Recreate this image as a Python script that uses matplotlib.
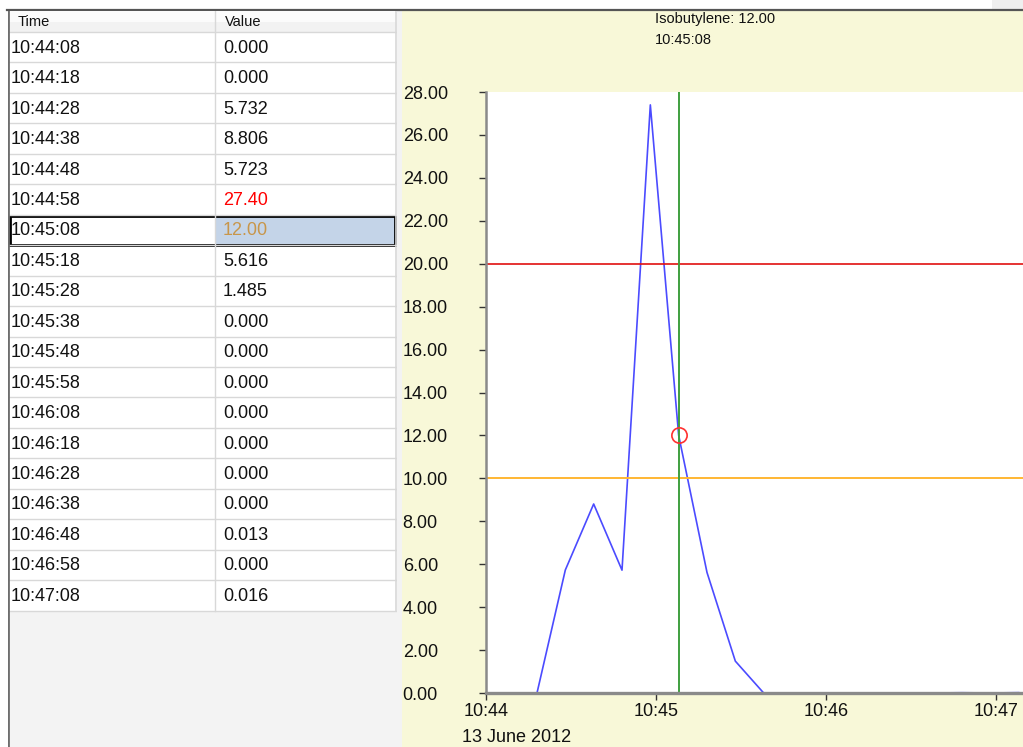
# -*- coding: utf-8 -*-
from datetime import datetime, timedelta

import matplotlib
matplotlib.use("Agg")
import matplotlib.pyplot as plt
import matplotlib.dates as mdates
from matplotlib.patches import Rectangle
from matplotlib.ticker import FormatStrFormatter, MultipleLocator

plt.rcParams['font.family'] = ['Liberation Sans', 'DejaVu Sans']

times = ["10:44:08", "10:44:18", "10:44:28", "10:44:38", "10:44:48",
         "10:44:58", "10:45:08", "10:45:18", "10:45:28", "10:45:38",
         "10:45:48", "10:45:58", "10:46:08", "10:46:18", "10:46:28",
         "10:46:38", "10:46:48", "10:46:58", "10:47:08"]
values = [0.000, 0.000, 5.732, 8.806, 5.723, 27.40, 12.00, 5.616, 1.485,
          0.000, 0.000, 0.000, 0.000, 0.000, 0.000, 0.000, 0.013, 0.000,
          0.016]
value_labels = ["0.000", "0.000", "5.732", "8.806", "5.723", "27.40", "12.00",
                "5.616", "1.485", "0.000", "0.000", "0.000", "0.000", "0.000",
                "0.000", "0.000", "0.013", "0.000", "0.016"]
day = "2012-06-13"
date_label = "13 June 2012"
gas = "Isobutylene"
selected = 6
alarm_high = 20.0
alarm_low = 10.0

W, H = 1023, 747
fig = plt.figure(figsize=(W / 100, H / 100), dpi=100, facecolor="white")


def box(x0, y0, x1, y1):
    # pixel box (top-left origin) -> figure fraction rect
    return [x0 / W, 1 - y1 / H, (x1 - x0) / W, (y1 - y0) / H]


# ---- background panels ----
bg = fig.add_axes([0, 0, 1, 1])
bg.set_xlim(0, W)
bg.set_ylim(H, 0)
bg.axis("off")
bg.add_patch(Rectangle((992, 0), 31, 10, color="#efefef", lw=0))
bg.add_patch(Rectangle((397, 10), 5, H - 10, color="#f3f3f3", lw=0))
bg.add_patch(Rectangle((402, 10), W - 402, H - 10, color="#f8f8d8", lw=0))
bg.plot([7, W], [10, 10], color="#555555", lw=1.6)

# ---- table ----
tab = fig.add_axes(box(8, 11, 397, H))
tab.set_xlim(0, 389)
tab.set_ylim(H - 11, 0)
tab.axis("off")
hdr_h = 21
row_h = 30.45
n = len(times)
tab.add_patch(Rectangle((0, 0), 389, hdr_h, color="#f2f2f2", lw=0))
tab.add_patch(Rectangle((0, 0), 389, hdr_h / 2, color="#fbfbfb", lw=0))
bottom = hdr_h + row_h * n
tab.add_patch(Rectangle((0, bottom), 389, H - bottom, color="#f3f3f3", lw=0))
tab.text(10, hdr_h / 2 + 1, "Time", fontsize=10.5, va="center", color="#111111")
tab.text(217, hdr_h / 2 + 1, "Value", fontsize=10.5, va="center", color="#111111")
tab.plot([207, 207], [0, bottom], color="#d8d8d8", lw=1)
tab.plot([388.5, 388.5], [0, bottom], color="#d8d8d8", lw=1.2)
tab.plot([0, 389], [hdr_h, hdr_h], color="#d8d8d8", lw=1)
for i, (t, v) in enumerate(zip(times, value_labels)):
    top = hdr_h + row_h * i
    tab.plot([0, 389], [top + row_h, top + row_h], color="#d8d8d8", lw=1)
    col = "#111111"
    if values[i] >= alarm_high:
        col = "#ff0000"
    elif i == selected:
        col = "#c8964a"
    if i == selected:
        tab.add_patch(Rectangle((207, top + 1), 181, row_h - 1,
                                color="#c4d4e8", lw=0))
        tab.add_patch(Rectangle((1.5, top + 1.5), 385.5, row_h - 2,
                                fill=False, ec="black", lw=2))
    tab.text(3, top + row_h / 2 + 1, t, fontsize=13, va="center", color="#111111")
    tab.text(215, top + row_h / 2 + 1, v, fontsize=13, va="center", color=col)
tab.plot([0, 0], [-1, H], color="#6e6e6e", lw=2)

# ---- chart ----
t_dt = [datetime.strptime(day + " " + t, "%Y-%m-%d %H:%M:%S") for t in times]
t0 = datetime.strptime(day + " 10:44:00", "%Y-%m-%d %H:%M:%S")

ax = fig.add_axes(box(486, 92, W, 693))
ax.set_facecolor("white")
ax.plot(t_dt, values, color="#4b4bff", lw=1.2, zorder=2)
ax.axhline(alarm_high, color="#e01010", lw=1.2, zorder=3)
ax.axhline(alarm_low, color="#ffb733", lw=1.4, zorder=3)
ax.axvline(t_dt[selected], color="#3f9f3f", lw=1.4, zorder=3)
ax.plot([t_dt[selected]], [values[selected]], "o", ms=11, mfc="none",
        mec="#ff3030", mew=1.2, zorder=4)

ax.set_xlim(t0, t0 + timedelta(seconds=(W - 486) / 170 * 60))
ax.set_ylim(0, 28)
ax.xaxis.set_major_locator(mdates.MinuteLocator())
ax.xaxis.set_major_formatter(mdates.DateFormatter("%H:%M"))
ax.yaxis.set_major_locator(MultipleLocator(2))
ax.yaxis.set_major_formatter(FormatStrFormatter("%.2f"))
for s in ["top", "right"]:
    ax.spines[s].set_visible(False)
for s in ["left", "bottom"]:
    ax.spines[s].set_color("#8a8a8a")
    ax.spines[s].set_zorder(5)
ax.spines["left"].set_linewidth(1.8)
ax.spines["bottom"].set_linewidth(2.4)
ax.tick_params(axis="y", length=5, width=1, color="#333333", pad=55,
               labelsize=13, labelcolor="#111111")
ax.tick_params(axis="x", length=5, width=1, color="#333333", pad=2,
               labelsize=13, labelcolor="#111111")
for lab in ax.get_yticklabels():
    lab.set_horizontalalignment("left")

fig.text(462 / W, 1 - 737 / H, date_label, fontsize=13, va="center",
         color="#111111")
fig.text(655 / W, 1 - 12 / H,
         "%s: %.2f\n%s" % (gas, values[selected], times[selected]),
         fontsize=10.5, va="top", ha="left", color="#111111", linespacing=1.6)

fig.savefig("out.png", dpi=100, facecolor=fig.get_facecolor())
